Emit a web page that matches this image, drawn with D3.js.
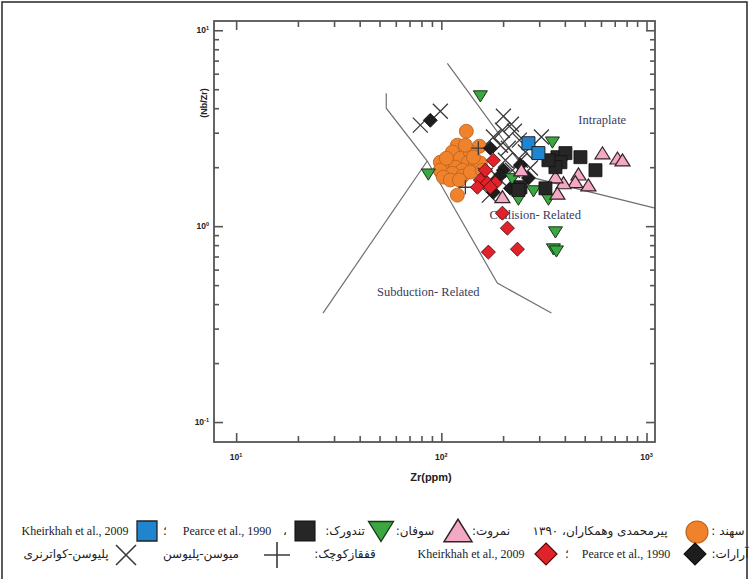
<!DOCTYPE html>
<html><head><meta charset="utf-8">
<script src="https://cdn.jsdelivr.net/npm/d3@7/dist/d3.min.js"></script>
<style>body{margin:0;background:#fff}svg{display:block}</style>
</head><body>
<svg id="chart" width="750" height="579"></svg>
<script>
// Samples as [Zr (ppm), Nb/Zr]
const sahand = [[132.4,3.05],[153.3,2.56],[119.7,2.59],[113.2,2.39],[123.8,2.22],[138.5,2.39],[135.4,2.12],
  [146.5,2.12],[98.9,2.12],[108.2,2.05],[117.0,2.00],[126.6,1.93],[98.9,1.93],[113.2,1.86],[126.6,1.80],
  [138.5,1.89],[155.0,2.10],[158.5,1.93],[102.3,1.78],[110.6,1.72],[122.5,1.72],[119.7,1.44],[143.3,2.25],
  [105.8,2.22],[131.0,2.59]];
const sofan = [[155.0,4.61],[86.4,1.84],[348,2.68],[222,1.74],[281.2,1.51],[332.7,1.37],[237.5,1.37],
  [359.9,0.932],[351.9,0.763],[363.9,0.745],[384.8,2.09]];
const namrut = [[610,2.36],[722,2.22],[763.7,2.17],[466,1.84],[521,1.62],[450,1.68],[394,1.66],[360,1.78],
  [198.5,1.41],[245.6,1.93],[368,1.47]];
const tandurkPearce = [[368,2.25],[402.6,2.36],[476.4,2.25],[563.9,1.93],[321.7,1.56],[380.6,2.12],
  [359.9,2.00],[242.9,1.58],[237.5,1.53],[332.7,2.17]];
const tandurkKheirkhah = [[265.8,2.65],[297.3,2.36]];
const araratPearce = [[88.4,3.47],[173.4,2.50],[179.4,1.66],[217.1,1.56],[200.7,1.93],[179.4,1.49],
  [242.9,2.05],[194.1,1.82],[265.8,1.76]];
const araratKheirkhah = [[179.4,2.17],[155.0,1.72],[167.7,1.66],[183.4,1.66],[149.9,1.58],[173.4,1.58],
  [198.5,1.165],[209.9,0.977],[169.6,0.737],[234.9,0.763],[163.9,1.93]];
const plioQuaternary = [[79.0,3.28],[98.9,3.86],[200.7,3.64],[219.5,3.31],[198.5,3.09],[227.0,3.05],
  [179.4,2.85],[194.1,2.59],[212.2,2.50],[240.2,2.75],[256.9,2.39],[307.5,2.85],[171.5,1.44],[205.3,2.17],
  [242.9,2.17],[271.8,1.98],[222.0,1.93],[189.7,1.76],[163.9,1.82]];
const mioPliocene = [[131.0,1.58],[151.5,2.50]];

// Field boundaries
const boundaryIntraplate = [[107,6.78],[272,1.78],[1100,1.236]];
const boundaryUpper = [[53.9,4.77],[53.9,4.0],[85.4,2.15],[187.5,0.512],[344,0.36]];
const boundaryLower = [[26.5,0.36],[85.4,2.15]];

// Axis ticks
const xMajor = [10,100,1000];
const xMinor = [20,30,40,50,60,70,80,90,200,300,400,500,600,700,800,900];
const yMajor = [0.1,1,10];
const yMinor = [0.2,0.3,0.4,0.5,0.6,0.7,0.8,0.9,2,3,4,5,6,7,8,9];

const fields = [
  {name:"Intraplate", at:[465,3.31], anchor:"start"},
  {name:"Collision- Related", at:[287,1.085], anchor:"middle"},
  {name:"Subduction- Related", at:[86.4,0.44], anchor:"middle"}
];

const svg = d3.select("#chart");
const x = d3.scaleLog().domain([7.8,1100]).range([214,655]);
const y = d3.scaleLog().domain([0.0791,11.15]).range([442,21]);
const [X0,X1] = x.range(), [Y0,Y1] = y.range();

// outer border
svg.append("rect").attr("x",2).attr("y",2).attr("width",745).attr("height",585)
  .attr("fill","none").attr("stroke","#333").attr("stroke-width",1.6);

// boundaries
const line = d3.line().x(d=>x(d[0])).y(d=>y(d[1]));
[boundaryIntraplate,boundaryUpper,boundaryLower].forEach(b=>{
  svg.append("path").attr("d",line(b)).attr("fill","none").attr("stroke","#707070").attr("stroke-width",1.2);
});

// field names
fields.forEach(f=>{
  svg.append("text").attr("x",x(f.at[0])).attr("y",y(f.at[1])).attr("text-anchor",f.anchor)
    .attr("font-family","Liberation Serif").attr("font-size",12.5).attr("fill","#3a3a5e").text(f.name);
});

// frame and inward ticks
const axisG = svg.append("g").attr("color","#555");
function addAxis(gen, tr, vals, len){
  const g = axisG.append("g").attr("transform",tr)
    .call(gen.tickValues(vals).tickSize(-len).tickFormat(""));
  g.select(".domain").remove();
  g.selectAll("line").attr("stroke-width",1.6);
}
[[xMajor,9],[xMinor,6]].forEach(([v,l])=>{
  addAxis(d3.axisBottom(x),`translate(0,${Y0})`,v,l);
  addAxis(d3.axisTop(x),`translate(0,${Y1})`,v,l);
});
[[yMajor,9],[yMinor,5]].forEach(([v,l])=>{
  addAxis(d3.axisLeft(y),`translate(${X0},0)`,v,l);
  addAxis(d3.axisRight(y),`translate(${X1},0)`,v,l);
});
svg.append("rect").attr("x",X0).attr("y",Y1).attr("width",X1-X0).attr("height",Y0-Y1)
  .attr("fill","none").attr("stroke","#555").attr("stroke-width",1.8);

// tick labels
function powLabel(t, v){
  const e = Math.round(Math.log10(v));
  t.attr("font-family","Liberation Sans").attr("font-weight","bold").attr("font-size",8.5).attr("fill","#222");
  t.append("tspan").text("10");
  t.append("tspan").attr("font-size",5.5).attr("dy",-3.5).text(e<0?"-"+(-e):String(e));
}
xMajor.forEach(v=>{
  const t = svg.append("text").attr("x",x(v)).attr("y",Y0+18).attr("text-anchor","middle");
  powLabel(t,v);
});
yMajor.forEach(v=>{
  const t = svg.append("text").attr("x",X0-5).attr("y",y(v)+3).attr("text-anchor","end");
  powLabel(t,v);
});
svg.append("text").attr("x",431).attr("y",481).attr("text-anchor","middle")
  .attr("font-family","Liberation Sans").attr("font-weight","bold").attr("font-size",11).attr("fill","#222").text("Zr(ppm)");
svg.append("text").attr("transform","translate(207,103) rotate(-90)").attr("text-anchor","middle")
  .attr("font-family","Liberation Sans").attr("font-weight","bold").attr("font-size",9).attr("fill","#222").text("(Nb/Zr)");

// marker shapes
const shape = {
  circle:r=>`M${-r},0A${r},${r} 0 1,0 ${r},0A${r},${r} 0 1,0 ${-r},0Z`,
  square:a=>`M${-a/2},${-a/2}h${a}v${a}h${-a}Z`,
  diamond:r=>`M0,${-r}L${r},0L0,${r}L${-r},0Z`,
  triDown:w=>`M${-w/2},${-w*0.38}L${w/2},${-w*0.38}L0,${w*0.42}Z`,
  triUp:w=>`M${-w/2},${w*0.38}L${w/2},${w*0.38}L0,${-w*0.42}Z`,
  cross:a=>`M${-a},${-a}L${a},${a}M${-a},${a}L${a},${-a}`,
  plus:a=>`M${-a},0H${a}M0,${-a}V${a}`
};
const styles = {
  sahand:{s:"circle",fill:"#f0822c",stroke:"#b8621c",sw:0.8},
  sofan:{s:"triDown",fill:"#3aa741",stroke:"#1a331a",sw:1},
  namrut:{s:"triUp",fill:"#f3a8c3",stroke:"#332228",sw:1.2},
  tandurkPearce:{s:"square",fill:"#262626",stroke:"#111",sw:0.8},
  tandurkKheirkhah:{s:"square",fill:"#2085cf",stroke:"#222",sw:1},
  araratPearce:{s:"diamond",fill:"#1d1d1d",stroke:"#111",sw:0.8},
  araratKheirkhah:{s:"diamond",fill:"#e0222a",stroke:"#5a0a0a",sw:0.9},
  plioQuaternary:{s:"cross",fill:"none",stroke:"#3a3a3a",sw:1.3},
  mioPliocene:{s:"plus",fill:"none",stroke:"#3a3a3a",sw:1.3}
};
const plotSize = {circle:7,square:13,diamond:7,triDown:14,triUp:15,cross:7.5,plus:7};

function drawSeries(data, key){
  const st = styles[key];
  svg.append("g").selectAll("path").data(data).join("path")
    .attr("transform",d=>`translate(${x(d[0])},${y(d[1])})`)
    .attr("d",shape[st.s](plotSize[st.s]))
    .attr("fill",st.fill).attr("stroke",st.stroke).attr("stroke-width",st.sw);
}
drawSeries(sahand,"sahand");
drawSeries(plioQuaternary,"plioQuaternary");
drawSeries(mioPliocene,"mioPliocene");
drawSeries(araratPearce,"araratPearce");
drawSeries(araratKheirkhah,"araratKheirkhah");
drawSeries(sofan,"sofan");
drawSeries(namrut,"namrut");
drawSeries(tandurkPearce,"tandurkPearce");
drawSeries(tandurkKheirkhah,"tandurkKheirkhah");

// legend
const legendMarks = [
  {key:"tandurkKheirkhah",cx:147,cy:531,size:20},
  {key:"tandurkPearce",cx:305,cy:531,size:20},
  {key:"sofan",cx:381,cy:531,size:25},
  {key:"namrut",cx:458,cy:531,size:28},
  {key:"sahand",cx:697,cy:532,size:11},
  {key:"plioQuaternary",cx:126,cy:555,size:10},
  {key:"mioPliocene",cx:277,cy:555,size:13},
  {key:"araratKheirkhah",cx:546,cy:554,size:11},
  {key:"araratPearce",cx:695,cy:554,size:11}
];
legendMarks.forEach(m=>{
  const st = styles[m.key];
  svg.append("path").attr("transform",`translate(${m.cx},${m.cy})`).attr("d",shape[st.s](m.size))
    .attr("fill",st.fill).attr("stroke",st.stroke).attr("stroke-width",st.sw+0.3);
});
const legendTexts = [
  {t:"Kheirkhah et al., 2009",cx:75,cy:535,fa:false},
  {t:"؛",cx:165,cy:535,fa:true},
  {t:"Pearce et al., 1990",cx:227,cy:535,fa:false},
  {t:"،",cx:285,cy:535,fa:true},
  {t:"تندورک:",cx:345,cy:535,fa:true},
  {t:"سوفان:",cx:415,cy:535,fa:true},
  {t:"نمروت:",cx:491,cy:535,fa:true},
  {t:"پیرمحمدی وهمکاران، ۱۳۹۰",cx:600,cy:535,fa:true},
  {t:"سهند :",cx:728,cy:535,fa:true},
  {t:"پلیوسن-کواترنری",cx:66,cy:558,fa:true},
  {t:"میوسن-پلیوسن",cx:201,cy:558,fa:true},
  {t:"قفقازکوچک:",cx:345,cy:558,fa:true},
  {t:"Kheirkhah et al., 2009",cx:471,cy:558,fa:false},
  {t:"؛",cx:567,cy:558,fa:true},
  {t:"Pearce et al., 1990",cx:626,cy:558,fa:false},
  {t:"آرارات:",cx:730,cy:558,fa:true}
];
legendTexts.forEach(d=>{
  svg.append("text").attr("x",d.cx).attr("y",d.cy).attr("text-anchor","middle")
    .attr("direction",d.fa?"rtl":"ltr")
    .attr("font-family",d.fa?"DejaVu Sans":"Liberation Serif")
    .attr("font-size",12).attr("fill","#222").text(d.t);
});
</script>
</body></html>
